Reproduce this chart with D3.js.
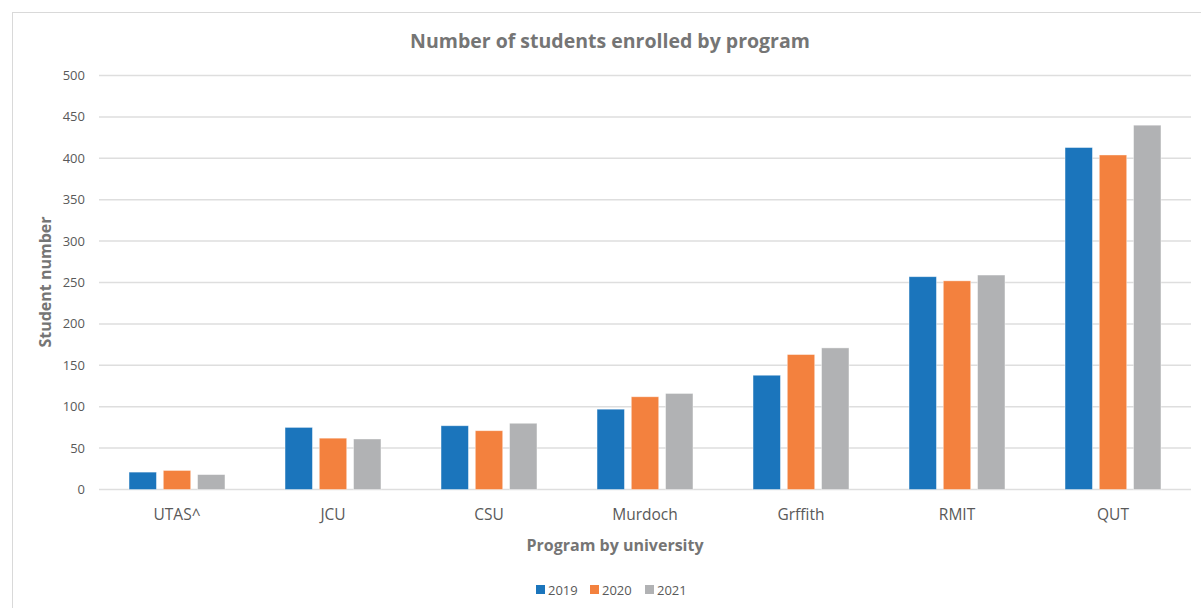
<!DOCTYPE html>
<html>
  <head>
    <meta charset="utf-8" />
    <title>Number of students enrolled by program</title>
    <script src="https://d3js.org/d3.v7.min.js"></script>
    <style>
        body {
            margin: 0;
            background: #fff;
        }
        text {
            font-family: "Open Sans", sans-serif;
        }
    </style>
  </head>
  <body>
    <svg id="chart"></svg>

    <script>
        // data
        var universities = ["UTAS^", "JCU", "CSU", "Murdoch", "Grffith", "RMIT", "QUT"];
        var years = ["2019", "2020", "2021"];
        var students2019 = [21, 75, 77, 97, 138, 257, 413];
        var students2020 = [23, 62, 71, 112, 163, 252, 404];
        var students2021 = [18, 61, 80, 116, 171, 259, 440];
        var yTicks = [0, 50, 100, 150, 200, 250, 300, 350, 400, 450, 500];
        var colors = ["#1b75bc", "#f3813e", "#b1b2b4"];

        var width = 1201;
        var height = 608;
        var margin = {top: 75.5, right: 10, bottom: 118.5, left: 99};

        var svg = d3.select("#chart").attr("width", width).attr("height", height);

        // chart frame
        svg.append("rect")
            .attr("x", 12.5).attr("y", 12.5)
            .attr("width", width).attr("height", height)
            .attr("fill", "none")
            .attr("stroke", "#d9d9d9");

        var series = [students2019, students2020, students2021];
        var rows = universities.map(function(u, i) {
            return {name: u, values: years.map(function(y, j) {
                return {year: y, value: series[j][i], color: colors[j]};
            })};
        });

        var x0 = d3.scaleBand()
            .domain(universities)
            .range([margin.left, 1191])
            .paddingInner(0.385)
            .paddingOuter(0.1925);

        var x1 = d3.scaleBand()
            .domain(years)
            .range([0, x0.bandwidth()])
            .paddingInner(0.2);

        var y = d3.scaleLinear()
            .domain([0, 500])
            .range([height - margin.bottom, margin.top]);

        // grid lines
        svg.append("g").selectAll("line")
            .data(yTicks)
            .join("line")
            .attr("x1", margin.left).attr("x2", 1191)
            .attr("y1", function(d) { return y(d); })
            .attr("y2", function(d) { return y(d); })
            .attr("stroke", "#dedede")
            .attr("stroke-width", 1.5);

        // y tick labels
        svg.append("g").selectAll("text")
            .data(yTicks)
            .join("text")
            .attr("x", 85)
            .attr("y", function(d) { return y(d); })
            .attr("dy", "0.35em")
            .attr("text-anchor", "end")
            .attr("fill", "#595959")
            .style("font-size", "13px")
            .text(function(d) { return d; });

        // bars
        var groups = svg.append("g").selectAll("g")
            .data(rows)
            .join("g")
            .attr("transform", function(d) { return "translate(" + x0(d.name) + ",0)"; });

        groups.selectAll("rect")
            .data(function(d) { return d.values; })
            .join("rect")
            .attr("x", function(d) { return x1(d.year); })
            .attr("width", x1.bandwidth())
            .attr("y", function(d) { return y(d.value); })
            .attr("height", function(d) { return y(0) - y(d.value); })
            .attr("fill", function(d) { return d.color; })
            .attr("stroke", "#ffffff")
            .attr("stroke-opacity", 0.5)
            .attr("stroke-width", 0.8);

        // x axis labels
        svg.append("g").selectAll("text")
            .data(universities)
            .join("text")
            .attr("x", function(d) { return x0(d) + x0.bandwidth() / 2; })
            .attr("y", 520)
            .attr("text-anchor", "middle")
            .attr("fill", "#595959")
            .style("font-size", "15.5px")
            .text(function(d) { return d; });

        // titles
        svg.append("text")
            .attr("x", 610).attr("y", 48)
            .attr("text-anchor", "middle")
            .attr("fill", "#757575")
            .style("font-size", "19.5px")
            .style("font-weight", "bold")
            .text("Number of students enrolled by program");

        svg.append("text")
            .attr("x", 615).attr("y", 551)
            .attr("text-anchor", "middle")
            .attr("fill", "#757575")
            .style("font-size", "16px")
            .style("font-weight", "bold")
            .text("Program by university");

        svg.append("text")
            .attr("transform", "translate(51,282) rotate(-90)")
            .attr("text-anchor", "middle")
            .attr("fill", "#757575")
            .style("font-size", "16px")
            .style("font-weight", "bold")
            .text("Student number");

        // legend
        var legendX = [536, 590, 645];
        var legend = svg.append("g").selectAll("g")
            .data(years)
            .join("g")
            .attr("transform", function(d, i) { return "translate(" + legendX[i] + ",585)"; });

        legend.append("rect")
            .attr("width", 9).attr("height", 9)
            .attr("fill", function(d, i) { return colors[i]; });

        legend.append("text")
            .attr("x", 12).attr("y", 9.5)
            .attr("fill", "#595959")
            .style("font-size", "13px")
            .text(function(d) { return d; });
    </script>
  </body>
</html>
